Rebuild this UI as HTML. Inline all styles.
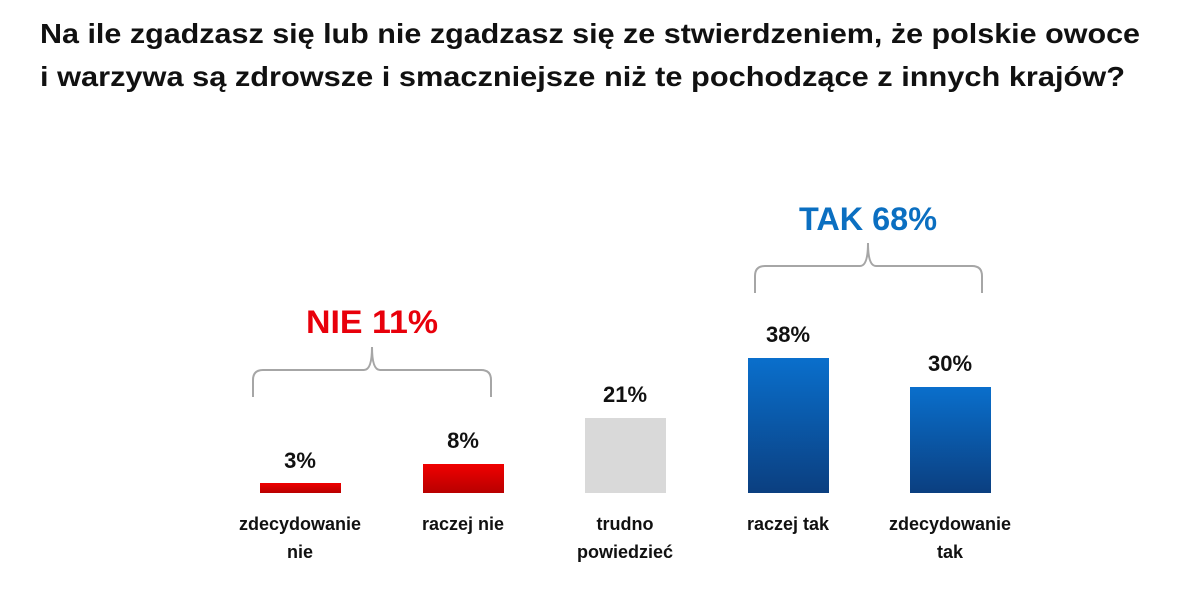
<!DOCTYPE html>
<html><head><meta charset="utf-8"><style>
html,body{margin:0;padding:0;background:#fff;}
svg{display:block;font-family:"Liberation Sans",sans-serif;font-weight:bold;}
</style></head><body>
<svg width="1179" height="593" viewBox="0 0 1179 593" xmlns="http://www.w3.org/2000/svg">
<defs>
<linearGradient id="r" x1="0" y1="0" x2="0" y2="1"><stop offset="0" stop-color="#f00000"/><stop offset="1" stop-color="#b80000"/></linearGradient>
<linearGradient id="b" x1="0" y1="0" x2="0" y2="1"><stop offset="0" stop-color="#0a6fcc"/><stop offset="1" stop-color="#0b3f80"/></linearGradient>
</defs>
<text x="40" y="43" font-size="28" fill="#111" textLength="1100" lengthAdjust="spacingAndGlyphs">Na ile zgadzasz się lub nie zgadzasz się ze stwierdzeniem, że polskie owoce</text>
<text x="40" y="86" font-size="28" fill="#111" textLength="1085" lengthAdjust="spacingAndGlyphs">i warzywa są zdrowsze i smaczniejsze niż te pochodzące z innych krajów?</text>

<text x="372" y="333" font-size="32" fill="#e8000b" text-anchor="middle" textLength="132" lengthAdjust="spacingAndGlyphs">NIE 11%</text>
<path d="M253,397 V380 Q253,370 263,370 H364 Q372,370 372,347 Q372,370 380,370 H481 Q491,370 491,380 V397" fill="none" stroke="#a6a6a6" stroke-width="2"/>
<text x="868" y="230" font-size="32" fill="#0b6fc1" text-anchor="middle" textLength="138" lengthAdjust="spacingAndGlyphs">TAK 68%</text>
<path d="M755,293 V276 Q755,266 765,266 H860 Q868,266 868,243 Q868,266 876,266 H972 Q982,266 982,276 V293" fill="none" stroke="#a6a6a6" stroke-width="2"/>

<rect x="260" y="483" width="81" height="10" fill="url(#r)"/>
<rect x="423" y="464" width="81" height="29" fill="url(#r)"/>
<rect x="585" y="418" width="81" height="75" fill="#d9d9d9"/>
<rect x="748" y="358" width="81" height="135" fill="url(#b)"/>
<rect x="910" y="387" width="81" height="106" fill="url(#b)"/>

<g font-size="22" fill="#111" text-anchor="middle">
<text x="300" y="468">3%</text>
<text x="463" y="448">8%</text>
<text x="625" y="402">21%</text>
<text x="788" y="342">38%</text>
<text x="950" y="371">30%</text>
</g>
<g font-size="18" fill="#111" text-anchor="middle">
<text x="300" y="530">zdecydowanie</text><text x="300" y="558">nie</text>
<text x="463" y="530">raczej nie</text>
<text x="625" y="530">trudno</text><text x="625" y="558">powiedzieć</text>
<text x="788" y="530">raczej tak</text>
<text x="950" y="530">zdecydowanie</text><text x="950" y="558">tak</text>
</g>
</svg>
</body></html>
